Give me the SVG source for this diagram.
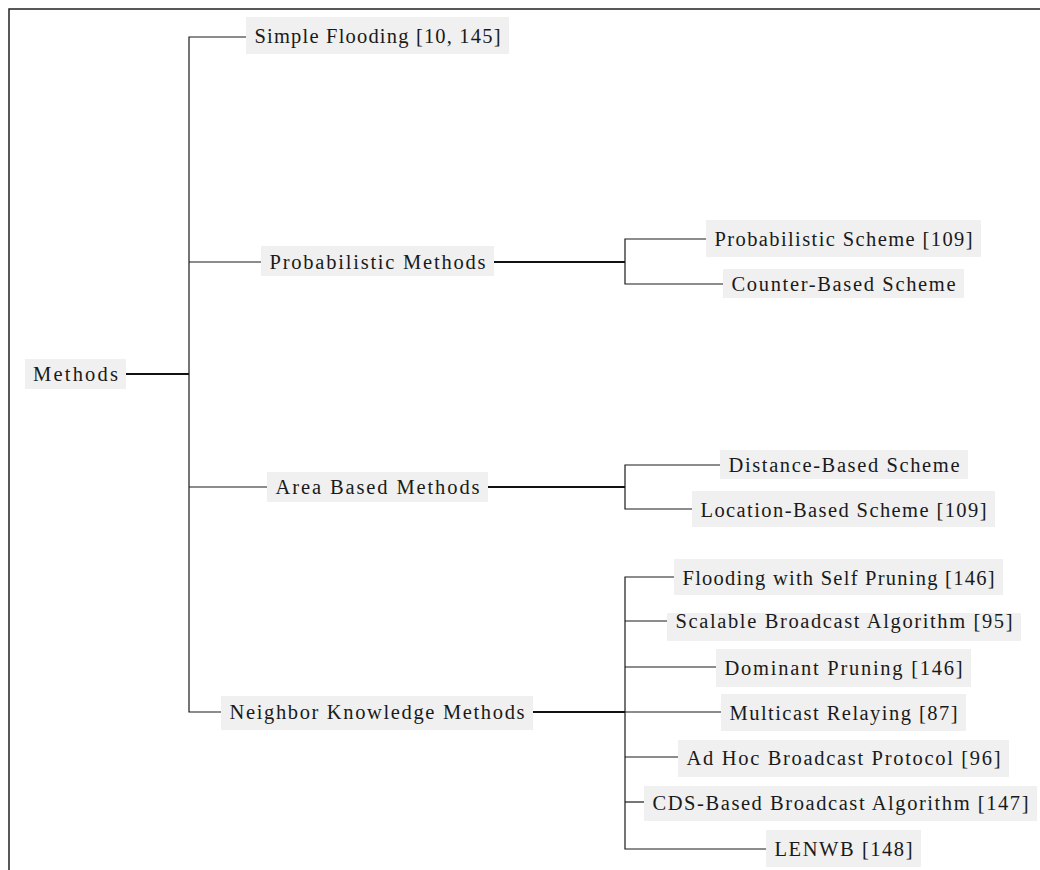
<svg xmlns="http://www.w3.org/2000/svg" width="1040" height="870" viewBox="0 0 1040 870">
  <style>
    .box { fill: #f0f0f0; }
    .lbl { font-family: "Liberation Serif", "DejaVu Serif", serif; font-size: 20.5px; fill: #1a1a1a; text-anchor: middle; }
    .edge { fill: none; stroke: #1a1a1a; stroke-width: 1.2; }
    .stem { fill: none; stroke: #111; stroke-width: 2; }
    .frame { fill: none; stroke: #222; stroke-width: 1.5; }
  </style>
  <rect width="1040" height="870" fill="#ffffff"/>
  <!-- outer frame, open on the right and bottom -->
  <path class="frame" d="M9,875 V9 H1045"/>

  <g id="connectors">
    <!-- root -->
    <path class="stem" d="M126,374 H189"/>
    <path class="edge" d="M246,37 H189 V712 H221"/>
    <path class="edge" d="M189,262 H261"/>
    <path class="edge" d="M189,487 H267"/>
    <!-- probabilistic -->
    <path class="stem" d="M494,262 H625"/>
    <path class="edge" d="M706,239 H625 V284 H723"/>
    <!-- area based -->
    <path class="stem" d="M488,487 H625"/>
    <path class="edge" d="M720,465 H625 V509 H692"/>
    <!-- neighbor knowledge -->
    <path class="stem" d="M533,712 H625"/>
    <path class="edge" d="M674,577 H625 V849 H766"/>
    <path class="edge" d="M625,621 H667"/>
    <path class="edge" d="M625,667 H716"/>
    <path class="edge" d="M625,712 H721"/>
    <path class="edge" d="M625,757 H678"/>
    <path class="edge" d="M625,802 H644"/>
  </g>

  <g id="n-methods">
    <rect class="box" x="25" y="359" width="101" height="30"/>
    <text class="lbl" x="75.5" y="381" textLength="85" lengthAdjust="spacing">Methods</text>
  </g>
  <g id="n-simple-flooding">
    <rect class="box" x="246" y="17" width="263" height="37"/>
    <text class="lbl" x="377.5" y="43" textLength="246" lengthAdjust="spacing">Simple Flooding [10, 145]</text>
  </g>
  <g id="n-probabilistic">
    <rect class="box" x="261" y="246" width="233" height="30"/>
    <text class="lbl" x="377.5" y="269" textLength="216" lengthAdjust="spacing">Probabilistic Methods</text>
  </g>
  <g id="n-area">
    <rect class="box" x="267" y="472" width="221" height="30"/>
    <text class="lbl" x="377.5" y="494" textLength="204" lengthAdjust="spacing">Area Based Methods</text>
  </g>
  <g id="n-neighbor">
    <rect class="box" x="221" y="696" width="312" height="34"/>
    <text class="lbl" x="377" y="719" textLength="295" lengthAdjust="spacing">Neighbor Knowledge Methods</text>
  </g>
  <g id="n-prob-scheme">
    <rect class="box" x="706" y="220" width="275" height="37"/>
    <text class="lbl" x="843.5" y="246" textLength="258" lengthAdjust="spacing">Probabilistic Scheme [109]</text>
  </g>
  <g id="n-counter">
    <rect class="box" x="723" y="269" width="241" height="29"/>
    <text class="lbl" x="843.5" y="291" textLength="224" lengthAdjust="spacing">Counter-Based Scheme</text>
  </g>
  <g id="n-distance">
    <rect class="box" x="720" y="450" width="248" height="29"/>
    <text class="lbl" x="844" y="472" textLength="231" lengthAdjust="spacing">Distance-Based Scheme</text>
  </g>
  <g id="n-location">
    <rect class="box" x="692" y="491" width="303" height="36"/>
    <text class="lbl" x="843.5" y="516.5" textLength="286" lengthAdjust="spacing">Location-Based Scheme [109]</text>
  </g>
  <g id="n-self-pruning">
    <rect class="box" x="674" y="559" width="329" height="36"/>
    <text class="lbl" x="838.5" y="584.5" textLength="312" lengthAdjust="spacing">Flooding with Self Pruning [146]</text>
  </g>
  <g id="n-sba">
    <rect class="box" x="667" y="613" width="354" height="28"/>
    <text class="lbl" x="844" y="628" textLength="337" lengthAdjust="spacing">Scalable Broadcast Algorithm [95]</text>
  </g>
  <g id="n-dominant">
    <rect class="box" x="716" y="649" width="255" height="38"/>
    <text class="lbl" x="843.5" y="674.5" textLength="238" lengthAdjust="spacing">Dominant Pruning [146]</text>
  </g>
  <g id="n-multicast">
    <rect class="box" x="721" y="694" width="245" height="37"/>
    <text class="lbl" x="843.5" y="719.5" textLength="228" lengthAdjust="spacing">Multicast Relaying [87]</text>
  </g>
  <g id="n-adhoc">
    <rect class="box" x="678" y="740" width="331" height="37"/>
    <text class="lbl" x="843.5" y="764.5" textLength="314" lengthAdjust="spacing">Ad Hoc Broadcast Protocol [96]</text>
  </g>
  <g id="n-cds">
    <rect class="box" x="644" y="786" width="393" height="35"/>
    <text class="lbl" x="840.5" y="809.5" textLength="376" lengthAdjust="spacing">CDS-Based Broadcast Algorithm [147]</text>
  </g>
  <g id="n-lenwb">
    <rect class="box" x="766" y="830" width="155" height="37"/>
    <text class="lbl" x="843.5" y="856" textLength="138" lengthAdjust="spacing">LENWB [148]</text>
  </g>
</svg>
